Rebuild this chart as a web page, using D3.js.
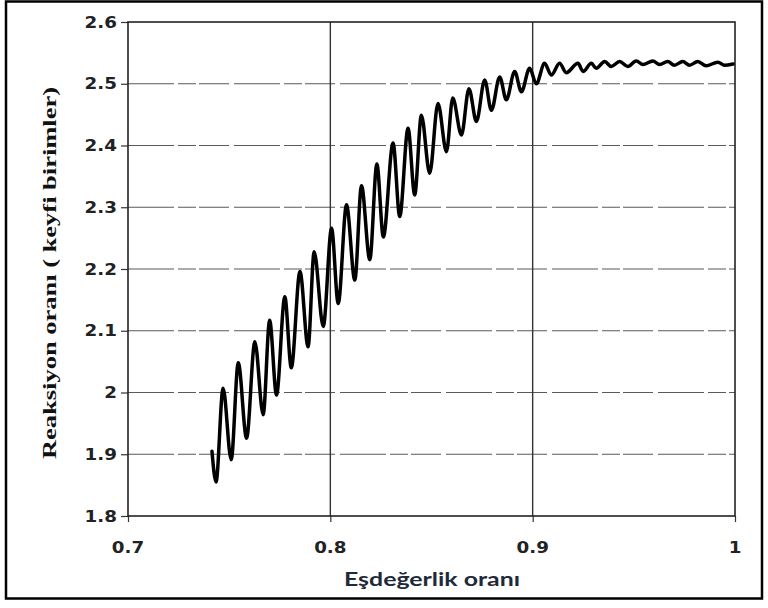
<!DOCTYPE html>
<html>
<head>
<meta charset="utf-8">
<script src="https://cdn.jsdelivr.net/npm/d3@7"></script>
<style>
  html, body { margin: 0; padding: 0; background: #fff; }
  svg { display: block; }
</style>
</head>
<body>
<svg id="chart" width="768" height="608"></svg>
<script>
// ---- data ----
const xTicks = [0.7, 0.8, 0.9, 1];
const xTickLabels = ["0.7", "0.8", "0.9", "1"];
const yTicks = [1.8, 1.9, 2.0, 2.1, 2.2, 2.3, 2.4, 2.5, 2.6];
const yTickLabels = ["1.8", "1.9", "2", "2.1", "2.2", "2.3", "2.4", "2.5", "2.6"];
const xTitle = "Eşdeğerlik oranı";
const yTitle = "Reaksiyon oranı ( keyfi birimler)";

const eqRatio = [
  0.7415, 0.7435, 0.7470, 0.7510, 0.7545, 0.7586, 0.7627, 0.7668, 0.7700, 0.7734,
  0.7775, 0.7807, 0.7850, 0.7890, 0.7920, 0.7965, 0.8006, 0.8039, 0.8080, 0.8121,
  0.8154, 0.8195, 0.8230, 0.8262, 0.8310, 0.8343, 0.8384, 0.8417, 0.8450, 0.8491,
  0.8532, 0.8574, 0.8605, 0.8648, 0.8685, 0.8722, 0.8763, 0.8796, 0.8837, 0.8870,
  0.8911, 0.8944, 0.8985, 0.9018, 0.9059, 0.9092, 0.9133, 0.9166, 0.9224, 0.9249,
  0.9290, 0.9314, 0.9356, 0.9388, 0.9430, 0.9470, 0.9512, 0.9545, 0.9594, 0.9627,
  0.9668, 0.9700, 0.9742, 0.9775, 0.9816, 0.9857, 0.9915, 0.9948, 0.9990
];
const reactionRate = [
  1.905, 1.855, 2.007, 1.891, 2.048, 1.926, 2.082, 1.964, 2.117, 1.996,
  2.155, 2.040, 2.196, 2.074, 2.228, 2.107, 2.266, 2.144, 2.304, 2.182,
  2.335, 2.215, 2.370, 2.252, 2.404, 2.285, 2.428, 2.320, 2.449, 2.355,
  2.468, 2.390, 2.477, 2.417, 2.492, 2.439, 2.506, 2.457, 2.511, 2.474,
  2.520, 2.487, 2.525, 2.500, 2.533, 2.514, 2.533, 2.518, 2.533, 2.520,
  2.533, 2.525, 2.536, 2.528, 2.536, 2.528, 2.537, 2.531, 2.537, 2.531,
  2.536, 2.530, 2.536, 2.530, 2.536, 2.529, 2.535, 2.530, 2.532
];

// ---- layout ----
const svg = d3.select("#chart");
const L = 128, R = 735, T = 22, B = 516;
const x = d3.scaleLinear().domain([0.7, 1]).range([L, R]);
const y = d3.scaleLinear().domain([1.8, 2.6]).range([B, T]);

// outer border
svg.append("rect").attr("x", 6).attr("y", 1.5).attr("width", 756).attr("height", 597)
  .attr("fill", "none").attr("stroke", "#000").attr("stroke-width", 2.5);

// horizontal gridlines
svg.append("g").selectAll("line").data(yTicks.filter(d => d > 1.8 && d < 2.6)).join("line")
  .attr("x1", L).attr("x2", R).attr("y1", d => y(d)).attr("y2", d => y(d))
  .attr("stroke", "#5a5a5a").attr("stroke-width", 1.2)
  .attr("stroke-dasharray", "46,4,18,3,30,5");

// vertical gridlines
svg.append("g").selectAll("line").data(xTicks.filter(d => d > 0.7 && d < 1)).join("line")
  .attr("x1", d => x(d)).attr("x2", d => x(d)).attr("y1", T).attr("y2", B)
  .attr("stroke", "#333").attr("stroke-width", 1.4);

// axes (ticks)
const yAxis = d3.axisLeft(y).tickValues(yTicks).tickSize(7).tickFormat("");
const xAxis = d3.axisBottom(x).tickValues(xTicks).tickSize(6).tickFormat("");
svg.append("g").attr("transform", `translate(${L},0)`).call(yAxis)
  .call(g => g.select(".domain").remove())
  .call(g => g.selectAll("line").attr("stroke", "#333").attr("stroke-width", 1.2));
svg.append("g").attr("transform", `translate(0,${B})`).call(xAxis)
  .call(g => g.select(".domain").remove())
  .call(g => g.selectAll("line").attr("stroke", "#333").attr("stroke-width", 1.2));

// frame
svg.append("rect").attr("x", L).attr("y", T).attr("width", R - L).attr("height", B - T)
  .attr("fill", "none").attr("stroke", "#222").attr("stroke-width", 1.6);

// tick labels
const tickFont = "'DejaVu Sans', Arial, sans-serif";
svg.append("g").selectAll("text").data(yTicks).join("text")
  .attr("transform", d => `translate(117,${y(d) + 5.5}) scale(1.22,1)`)
  .attr("text-anchor", "end")
  .attr("font-family", tickFont).attr("font-weight", "bold").attr("font-size", 15)
  .attr("fill", "#222")
  .text((d, i) => yTickLabels[i]);
svg.append("g").selectAll("text").data(xTicks).join("text")
  .attr("transform", d => `translate(${x(d)},553) scale(1.22,1)`)
  .attr("text-anchor", "middle")
  .attr("font-family", tickFont).attr("font-weight", "bold").attr("font-size", 15)
  .attr("fill", "#222")
  .text((d, i) => xTickLabels[i]);

// axis titles
svg.append("text").attr("x", 432).attr("y", 586).attr("text-anchor", "middle")
  .attr("font-family", "Lato, 'Open Sans', sans-serif").attr("font-weight", "bold")
  .attr("font-size", 18).attr("fill", "#1e2a3a")
  .attr("textLength", 176).attr("lengthAdjust", "spacingAndGlyphs")
  .text(xTitle);
svg.append("text").attr("transform", "translate(56,273) rotate(-90)")
  .attr("text-anchor", "middle")
  .attr("font-family", "'Liberation Serif', 'Times New Roman', serif").attr("font-weight", "bold")
  .attr("font-size", 18).attr("fill", "#111")
  .attr("textLength", 372).attr("lengthAdjust", "spacingAndGlyphs")
  .text(yTitle);

// data line
const pts = eqRatio.map((d, i) => [d, reactionRate[i]]);
const line = d3.line().x(d => x(d[0])).y(d => y(d[1])).curve(d3.curveMonotoneX);
svg.append("path").datum(pts).attr("d", line)
  .attr("fill", "none").attr("stroke", "#000").attr("stroke-width", 3.5)
  .attr("stroke-linejoin", "round").attr("stroke-linecap", "round");
</script>
</body>
</html>
